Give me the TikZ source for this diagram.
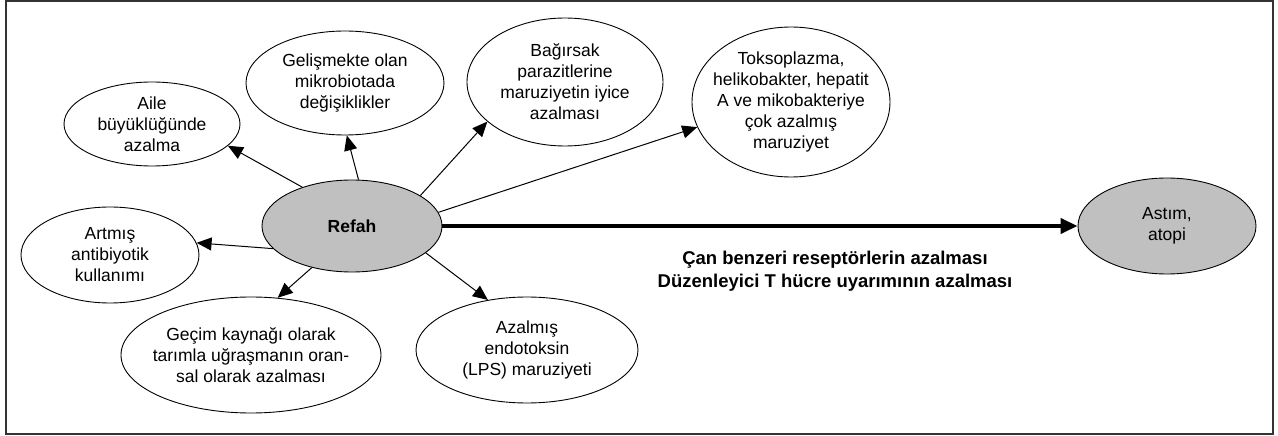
\documentclass[tikz,border=0pt]{standalone}
\usepackage{fontspec}
\setmainfont{Liberation Sans}
\usetikzlibrary{shapes.geometric, arrows.meta, positioning}
\definecolor{refahgray}{RGB}{192,192,192}

\tikzset{
    bubble/.style={ellipse, draw, line width=0.9pt, inner sep=-4em, align=center,
        font=\fontsize{17.5}{21}\selectfont},
    darkbubble/.style={bubble, fill=refahgray},
    effect/.style={-{Triangle[length=15pt,width=13pt]}, line width=1pt},
    bigeffect/.style={-{Triangle[length=17pt,width=15pt]}, line width=4pt},
}

\begin{document}
\begin{tikzpicture}[x=1pt, y=1pt, on grid]
    \useasboundingbox (-352,226) rectangle (926,-210);
    \draw[line width=1.5pt, black!80] (-346,225) rectangle (921,-208);

    \node[darkbubble, minimum width=180pt, minimum height=92pt,
        font=\fontsize{17.5}{21}\selectfont\bfseries] (refah) at (0,0) {Refah};
    \node[bubble, minimum width=176pt, minimum height=84pt, above left=102pt and 200pt of refah] (aile)
        {Aile\\büyüklüğünde\\azalma};
    \node[bubble, minimum width=198pt, minimum height=104pt, above left=143pt and 7pt of refah] (mikro)
        {Gelişmekte olan\\mikrobiotada\\değişiklikler};
    \node[bubble, minimum width=196pt, minimum height=128pt, above right=144pt and 213pt of refah] (parazit)
        {Bağırsak\\parazitlerine\\maruziyetin iyice\\azalması};
    \node[bubble, minimum width=198pt, minimum height=150pt, above right=124pt and 439pt of refah] (tokso)
        {Toksoplazma,\\helikobakter, hepatit\\A ve mikobakteriye\\çok azalmış\\maruziyet};
    \node[bubble, minimum width=178pt, minimum height=96pt, below left=29pt and 242pt of refah] (antibiyotik)
        {Artmış\\antibiyotik\\kullanımı};
    \node[bubble, minimum width=260pt, minimum height=116pt, below left=129pt and 101pt of refah] (tarim)
        {Geçim kaynağı olarak\\tarımla uğraşmanın oran-\\sal olarak azalması};
    \node[bubble, minimum width=222pt, minimum height=106pt, below right=124pt and 175pt of refah] (lps)
        {Azalmış\\endotoksin\\(LPS) maruziyeti};
    \node[darkbubble, minimum width=178pt, minimum height=96pt, right=815pt of refah] (astim)
        {Astım,\\atopi};
    \node[align=center, font=\fontsize{18.5}{23}\selectfont\bfseries,
        below right=45pt and 483pt of refah] (yol)
        {Çan benzeri reseptörlerin azalması\\Düzenleyici T hücre uyarımının azalması};

    \draw[effect] (refah.142) -- (aile.-16);
    \draw[effect] (refah.82) -- (mikro.-88);
    \draw[effect] (refah.24) -- (parazit.207);
    \draw[effect] (refah.9) -- (tokso.195);
    \draw[effect] (refah.196) -- (antibiyotik.8);
    \draw[effect] (refah.226) -- (tarim.65);
    \draw[effect] (refah.-20) -- (lps.128);
    \draw[bigeffect] (refah) -- (astim);
\end{tikzpicture}
\end{document}
